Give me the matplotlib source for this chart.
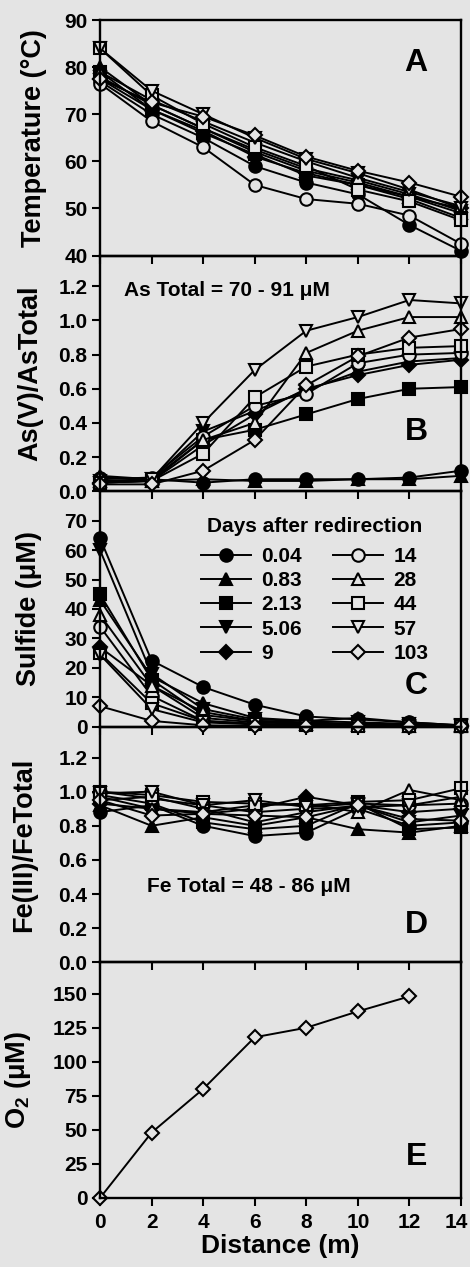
import numpy as np
import matplotlib
matplotlib.use("Agg")
import matplotlib.pyplot as plt
import matplotlib.transforms as mtransforms

plt.rcParams['font.family'] = ['Liberation Sans', 'DejaVu Sans']
plt.rcParams['font.weight'] = 'bold'
plt.rcParams['axes.labelweight'] = 'bold'
plt.rcParams['mathtext.fontset'] = 'custom'
plt.rcParams['mathtext.rm'] = 'Liberation Sans:bold'
plt.rcParams['mathtext.default'] = 'rm'

# ================= DATA =================#
distance = [0, 2, 4, 6, 8, 10, 12, 14]
days = ['0.04', '0.83', '2.13', '5.06', '9', '14', '28', '44', '57', '103']

# Temperature (C), one row per day
temperature = [
    [77.0, 70.0, 65.0, 59.0, 55.5, 53.0, 46.5, 41.0],
    [80.0, 72.0, 67.0, 62.0, 58.0, 55.5, 52.5, 49.0],
    [79.0, 71.0, 66.0, 61.5, 57.0, 55.0, 52.0, 48.0],
    [78.0, 72.0, 67.0, 62.5, 58.5, 56.0, 53.0, 49.5],
    [77.5, 71.0, 66.5, 61.0, 57.5, 55.0, 52.5, 50.0],
    [76.5, 68.5, 63.0, 55.0, 52.0, 51.0, 48.5, 42.5],
    [79.0, 73.0, 68.5, 64.0, 60.0, 56.5, 53.5, 50.5],
    [84.0, 74.0, 68.0, 63.0, 59.0, 54.0, 51.5, 47.5],
    [84.0, 75.0, 70.0, 65.0, 60.5, 57.5, 54.0, 50.0],
    [77.5, 72.5, 69.5, 65.5, 61.0, 58.0, 55.5, 52.5],
]

# As(V)/AsTotal
as_ratio = [
    [0.08, 0.07, 0.05, 0.07, 0.07, 0.07, 0.08, 0.12],
    [0.06, 0.06, 0.07, 0.06, 0.06, 0.07, 0.07, 0.09],
    [0.05, 0.06, 0.30, 0.36, 0.45, 0.54, 0.60, 0.61],
    [0.06, 0.07, 0.35, 0.47, 0.59, 0.70, 0.76, 0.78],
    [0.05, 0.06, 0.27, 0.45, 0.60, 0.68, 0.74, 0.77],
    [0.07, 0.08, 0.32, 0.50, 0.57, 0.75, 0.80, 0.81],
    [0.09, 0.07, 0.30, 0.40, 0.81, 0.94, 1.02, 1.02],
    [0.05, 0.06, 0.22, 0.55, 0.73, 0.80, 0.84, 0.85],
    [0.05, 0.07, 0.40, 0.71, 0.94, 1.02, 1.12, 1.10],
    [0.04, 0.04, 0.12, 0.30, 0.62, 0.79, 0.90, 0.95],
]

# Sulfide (uM)
sulfide = [
    [64.0, 22.5, 13.5, 7.5, 3.5, 2.5, 1.5, 0.5],
    [43.0, 17.0, 8.0, 3.0, 2.0, 3.0, 1.5, 0.5],
    [45.0, 16.0, 4.0, 2.0, 1.5, 1.0, 0.8, 0.3],
    [60.0, 18.0, 6.0, 2.5, 2.0, 1.5, 1.0, 0.5],
    [27.0, 14.0, 3.0, 1.5, 1.0, 0.8, 0.5, 0.3],
    [34.0, 10.5, 2.0, 1.0, 0.5, 0.5, 0.3, 0.2],
    [38.0, 14.0, 5.0, 2.0, 1.0, 0.5, 0.3, 0.2],
    [25.0, 8.0, 2.0, 1.0, 0.5, 0.3, 0.2, 0.2],
    [24.5, 6.0, 1.5, 0.8, 0.4, 0.3, 0.2, 0.1],
    [7.0, 2.0, 0.5, 0.3, 0.2, 0.2, 0.1, 0.1],
]

# Fe(III)/FeTotal
fe_ratio = [
    [0.88, 0.92, 0.80, 0.74, 0.76, 0.90, 0.80, 0.82],
    [0.92, 0.80, 0.85, 0.80, 0.85, 0.78, 0.76, 0.80],
    [0.98, 0.93, 0.82, 0.78, 0.80, 0.93, 0.78, 0.79],
    [0.95, 0.97, 0.90, 0.82, 0.88, 0.92, 0.82, 0.86],
    [0.93, 0.90, 0.87, 0.90, 0.97, 0.92, 0.88, 0.90],
    [1.00, 0.96, 0.92, 0.88, 0.90, 0.91, 0.92, 0.93],
    [0.97, 0.90, 0.88, 0.92, 0.93, 0.88, 1.01, 0.95],
    [1.00, 0.98, 0.94, 0.93, 0.92, 0.94, 0.95, 1.02],
    [0.99, 1.00, 0.92, 0.95, 0.91, 0.93, 0.92, 0.97],
    [0.95, 0.86, 0.87, 0.86, 0.85, 0.92, 0.84, 0.83],
]

# Dissolved O2 (uM)
o2_distance = [0, 2, 4, 6, 8, 10, 12]
o2 = [0, 48, 80, 118, 125, 137, 148]

# ================= STYLE =================#
bg = '#e4e4e4'
markers = ['o', '^', 's', 'v', 'D', 'o', '^', 's', 'v', 'D']
filled = [True] * 5 + [False] * 5
msize = {'o': 9, '^': 9, 's': 8, 'v': 9, 'D': 7.5}

fig, axes = plt.subplots(5, 1, figsize=(4.7, 12.67), dpi=100, sharex=True)
fig.patch.set_facecolor(bg)
fig.subplots_adjust(left=0.2128, right=0.9809, top=0.9842, bottom=0.0545, hspace=0)


def draw_series(ax, table):
    handles = []
    for i, vals in enumerate(table):
        h, = ax.plot(distance, vals, color='black', lw=1.4,
                     marker=markers[i], ms=msize[markers[i]], mew=1.5,
                     mec='black', mfc='black' if filled[i] else bg,
                     clip_on=False, label=days[i])
        handles.append(h)
    return handles


draw_series(axes[0], temperature)
draw_series(axes[1], as_ratio)
handles = draw_series(axes[2], sulfide)
draw_series(axes[3], fe_ratio)
axes[4].plot(o2_distance, o2, color='black', lw=1.4, marker='D', ms=7.5,
             mew=1.5, mec='black', mfc=bg, clip_on=False)

# ================= AXES =================#
ylims = [(40, 90), (0, 1.38), (0, 80), (0, 1.38), (0, 173)]
yticks = [np.arange(40, 91, 10), np.arange(0, 1.21, 0.2), np.arange(0, 71, 10),
          np.arange(0, 1.21, 0.2), np.arange(0, 151, 25)]
ylabels = ['Temperature (°C)', 'As(V)/AsTotal', 'Sulfide (μM)',
           'Fe(III)/FeTotal', 'O$_2$ (μM)']
label_x = [-0.146, -0.157, -0.16, -0.174, -0.185]
letters = ['A', 'B', 'C', 'D', 'E']
letter_y = [0.817, 0.25, 0.175, 0.157, 0.172]

for i, ax in enumerate(axes):
    ax.set_facecolor('none')
    ax.set_xlim(0, 14)
    ax.set_ylim(*ylims[i])
    ax.set_yticks(yticks[i])
    if i in (1, 3):
        ax.set_yticklabels([f'{v:.1f}' for v in yticks[i]])
    ax.set_xticks(distance)
    ax.tick_params(direction='out', length=6, width=1.5, labelsize=15, pad=3)
    ax.tick_params(axis='x', pad=5)
    for s in ax.spines.values():
        s.set_linewidth(1.7)
    ax.set_ylabel(ylabels[i], fontsize=19.5)
    ax.yaxis.set_label_coords(label_x[i], 0.5)
    ax.text(0.876, letter_y[i], letters[i], transform=ax.transAxes,
            fontsize=23, fontweight='bold', ha='center', va='center')

axes[4].set_xlabel('Distance (m)', fontsize=19, labelpad=1)

# nudge the last x tick label so it stays inside the figure
last = axes[4].get_xticklabels()[-1]
last.set_transform(last.get_transform() +
                   mtransforms.ScaledTranslation(-5 / 100, 0, fig.dpi_scale_trans))

axes[1].text(0.066, 0.852, 'As Total = 70 - 91 μM', transform=axes[1].transAxes,
             fontsize=15, ha='left', va='center')
axes[3].text(0.13, 0.32, 'Fe Total = 48 - 86 μM', transform=axes[3].transAxes,
             fontsize=15, ha='left', va='center')

leg = axes[2].legend(handles=handles, ncol=2, loc='upper center',
                     bbox_to_anchor=(0.595, 0.935), frameon=False,
                     title='Days after redirection',
                     title_fontproperties={'weight': 'bold', 'size': 15},
                     fontsize=15, handlelength=2.4, handletextpad=0.5,
                     columnspacing=1.5, labelspacing=0.25, borderpad=0)
leg._legend_box.sep = 8

fig.savefig('out.png', dpi=100, facecolor=bg)
